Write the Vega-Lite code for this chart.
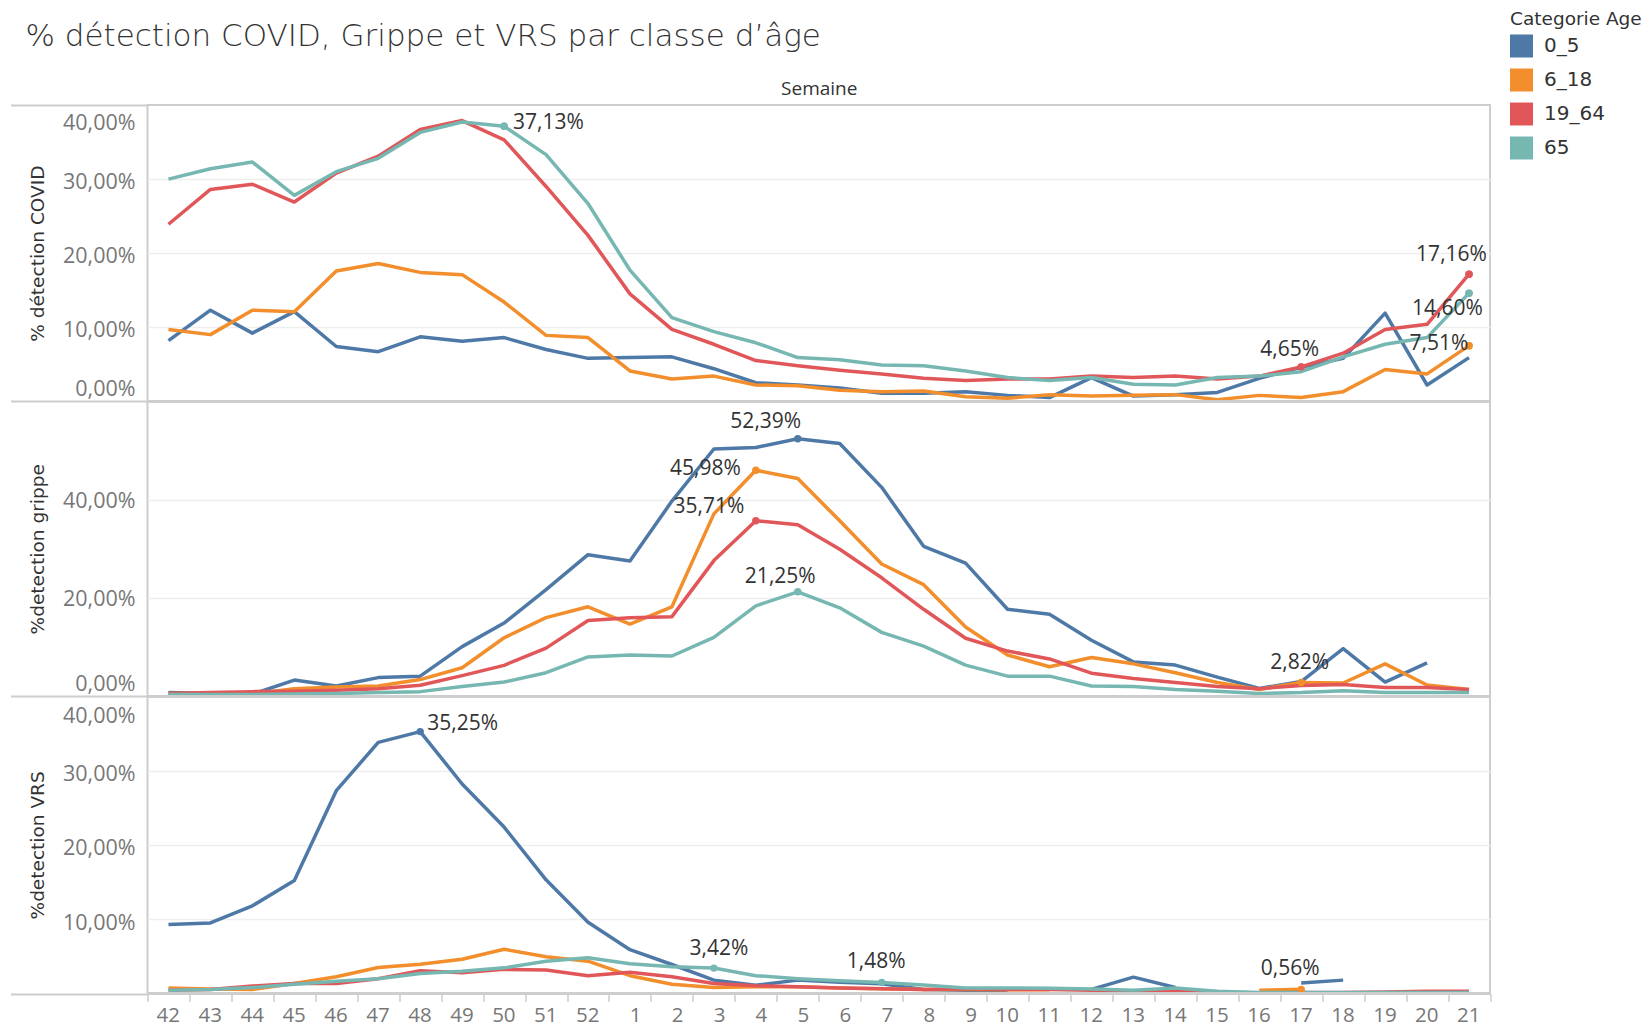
{
  "$schema": "https://vega.github.io/schema/vega-lite/v6.json",
  "autosize": {"type": "none"},
  "width": 1342.5,
  "height": 888.5,
  "padding": {"left": 147.5, "top": 105, "right": 162, "bottom": 35.5},
  "background": "white",
  "title": {"text": "% détection COVID, Grippe et VRS par classe d’âge", "anchor": "start", "frame": "group", "dx": -122, "dy": 47, "font": "DejaVu Sans", "fontSize": 31, "fontWeight": 200, "color": "#333333"},
  "config": {
    "locale": {"number": {"decimal": ",", "thousands": " ", "grouping": [3], "currency": ["", " €"]}},
    "view": {"stroke": "#cdcdcd", "strokeWidth": 2},
    "font": "Open Sans"
  },
  "datasets": {
    "d": [
      {"week":"42","age":"0_5","covid":0.082,"grippe":0.0075,"vrs":0.093},
      {"week":"43","age":"0_5","covid":0.123,"grippe":0.0055,"vrs":0.095},
      {"week":"44","age":"0_5","covid":0.092,"grippe":0.0045,"vrs":0.118},
      {"week":"45","age":"0_5","covid":0.121,"grippe":0.033,"vrs":0.152},
      {"week":"46","age":"0_5","covid":0.074,"grippe":0.021,"vrs":0.273},
      {"week":"47","age":"0_5","covid":0.067,"grippe":0.038,"vrs":0.338},
      {"week":"48","age":"0_5","covid":0.087,"grippe":0.041,"vrs":0.3525},
      {"week":"49","age":"0_5","covid":0.081,"grippe":0.101,"vrs":0.282},
      {"week":"50","age":"0_5","covid":0.086,"grippe":0.149,"vrs":0.224},
      {"week":"51","age":"0_5","covid":0.070,"grippe":0.217,"vrs":0.153},
      {"week":"52","age":"0_5","covid":0.058,"grippe":0.288,"vrs":0.096},
      {"week":"1","age":"0_5","covid":0.059,"grippe":0.275,"vrs":0.059},
      {"week":"2","age":"0_5","covid":0.060,"grippe":0.397,"vrs":0.039},
      {"week":"3","age":"0_5","covid":0.044,"grippe":0.503,"vrs":0.018},
      {"week":"4","age":"0_5","covid":0.025,"grippe":0.506,"vrs":0.011},
      {"week":"5","age":"0_5","covid":0.022,"grippe":0.5239,"vrs":0.018},
      {"week":"6","age":"0_5","covid":0.018,"grippe":0.514,"vrs":0.015},
      {"week":"7","age":"0_5","covid":0.011,"grippe":0.425,"vrs":0.013},
      {"week":"8","age":"0_5","covid":0.011,"grippe":0.305,"vrs":0.0055},
      {"week":"9","age":"0_5","covid":0.013,"grippe":0.271,"vrs":0.0045},
      {"week":"10","age":"0_5","covid":0.008,"grippe":0.177,"vrs":0.0045},
      {"week":"11","age":"0_5","covid":0.005,"grippe":0.167,"vrs":null},
      {"week":"12","age":"0_5","covid":0.032,"grippe":0.114,"vrs":0.0055},
      {"week":"13","age":"0_5","covid":0.007,"grippe":0.070,"vrs":0.022},
      {"week":"14","age":"0_5","covid":0.009,"grippe":0.0635,"vrs":0.008},
      {"week":"15","age":"0_5","covid":0.012,"grippe":0.039,"vrs":null},
      {"week":"16","age":"0_5","covid":0.031,"grippe":0.016,"vrs":null},
      {"week":"17","age":"0_5","covid":0.046,"grippe":0.030,"vrs":0.014},
      {"week":"18","age":"0_5","covid":0.058,"grippe":0.097,"vrs":0.018},
      {"week":"19","age":"0_5","covid":0.119,"grippe":0.029,"vrs":null},
      {"week":"20","age":"0_5","covid":0.022,"grippe":0.068,"vrs":null},
      {"week":"21","age":"0_5","covid":0.059,"grippe":null,"vrs":null},

      {"week":"42","age":"6_18","covid":0.097,"grippe":0.0055,"vrs":0.0075},
      {"week":"43","age":"6_18","covid":0.090,"grippe":0.0045,"vrs":0.006},
      {"week":"44","age":"6_18","covid":0.123,"grippe":0.0045,"vrs":0.0055},
      {"week":"45","age":"6_18","covid":0.121,"grippe":0.0155,"vrs":0.0135},
      {"week":"46","age":"6_18","covid":0.176,"grippe":0.019,"vrs":0.0225},
      {"week":"47","age":"6_18","covid":0.186,"grippe":0.021,"vrs":0.035},
      {"week":"48","age":"6_18","covid":0.174,"grippe":0.034,"vrs":0.0395},
      {"week":"49","age":"6_18","covid":0.171,"grippe":0.058,"vrs":0.046},
      {"week":"50","age":"6_18","covid":0.134,"grippe":0.119,"vrs":0.0595},
      {"week":"51","age":"6_18","covid":0.089,"grippe":0.160,"vrs":0.0495},
      {"week":"52","age":"6_18","covid":0.086,"grippe":0.182,"vrs":0.0435},
      {"week":"1","age":"6_18","covid":0.041,"grippe":0.147,"vrs":0.024},
      {"week":"2","age":"6_18","covid":0.030,"grippe":0.182,"vrs":0.0125},
      {"week":"3","age":"6_18","covid":0.034,"grippe":0.371,"vrs":0.008},
      {"week":"4","age":"6_18","covid":0.022,"grippe":0.4598,"vrs":0.009},
      {"week":"5","age":"6_18","covid":0.021,"grippe":0.443,"vrs":0.009},
      {"week":"6","age":"6_18","covid":0.015,"grippe":0.357,"vrs":0.0075},
      {"week":"7","age":"6_18","covid":0.013,"grippe":0.269,"vrs":0.0065},
      {"week":"8","age":"6_18","covid":0.014,"grippe":0.227,"vrs":0.0055},
      {"week":"9","age":"6_18","covid":0.006,"grippe":0.141,"vrs":0.0055},
      {"week":"10","age":"6_18","covid":0.004,"grippe":0.084,"vrs":0.005},
      {"week":"11","age":"6_18","covid":0.009,"grippe":0.060,"vrs":0.005},
      {"week":"12","age":"6_18","covid":0.007,"grippe":0.079,"vrs":null},
      {"week":"13","age":"6_18","covid":0.008,"grippe":0.066,"vrs":null},
      {"week":"14","age":"6_18","covid":0.009,"grippe":0.048,"vrs":null},
      {"week":"15","age":"6_18","covid":0.002,"grippe":0.028,"vrs":null},
      {"week":"16","age":"6_18","covid":0.008,"grippe":0.014,"vrs":0.0045},
      {"week":"17","age":"6_18","covid":0.005,"grippe":0.0282,"vrs":0.0056},
      {"week":"18","age":"6_18","covid":0.013,"grippe":0.027,"vrs":null},
      {"week":"19","age":"6_18","covid":0.043,"grippe":0.066,"vrs":null},
      {"week":"20","age":"6_18","covid":0.037,"grippe":0.023,"vrs":null},
      {"week":"21","age":"6_18","covid":0.0751,"grippe":0.014,"vrs":null},

      {"week":"42","age":"19_64","covid":0.239,"grippe":0.0055,"vrs":0.0045},
      {"week":"43","age":"19_64","covid":0.286,"grippe":0.0075,"vrs":0.0055},
      {"week":"44","age":"19_64","covid":0.293,"grippe":0.0095,"vrs":0.010},
      {"week":"45","age":"19_64","covid":0.269,"grippe":0.0105,"vrs":0.0135},
      {"week":"46","age":"19_64","covid":0.308,"grippe":0.0125,"vrs":0.0135},
      {"week":"47","age":"19_64","covid":0.331,"grippe":0.0155,"vrs":0.020},
      {"week":"48","age":"19_64","covid":0.367,"grippe":0.0225,"vrs":0.0305},
      {"week":"49","age":"19_64","covid":0.379,"grippe":0.042,"vrs":0.028},
      {"week":"50","age":"19_64","covid":0.353,"grippe":0.063,"vrs":0.0325},
      {"week":"51","age":"19_64","covid":0.290,"grippe":0.098,"vrs":0.0315},
      {"week":"52","age":"19_64","covid":0.224,"grippe":0.154,"vrs":0.024},
      {"week":"1","age":"19_64","covid":0.145,"grippe":0.160,"vrs":0.0285},
      {"week":"2","age":"19_64","covid":0.097,"grippe":0.162,"vrs":0.0225},
      {"week":"3","age":"19_64","covid":0.077,"grippe":0.276,"vrs":0.0135},
      {"week":"4","age":"19_64","covid":0.055,"grippe":0.3571,"vrs":0.0105},
      {"week":"5","age":"19_64","covid":0.048,"grippe":0.349,"vrs":0.009},
      {"week":"6","age":"19_64","covid":0.042,"grippe":0.299,"vrs":0.0075},
      {"week":"7","age":"19_64","covid":0.037,"grippe":0.241,"vrs":0.0065},
      {"week":"8","age":"19_64","covid":0.031,"grippe":0.177,"vrs":0.0055},
      {"week":"9","age":"19_64","covid":0.028,"grippe":0.118,"vrs":0.0065},
      {"week":"10","age":"19_64","covid":0.030,"grippe":0.092,"vrs":0.0055},
      {"week":"11","age":"19_64","covid":0.030,"grippe":0.076,"vrs":0.0055},
      {"week":"12","age":"19_64","covid":0.034,"grippe":0.047,"vrs":0.0045},
      {"week":"13","age":"19_64","covid":0.032,"grippe":0.036,"vrs":0.0025},
      {"week":"14","age":"19_64","covid":0.034,"grippe":0.028,"vrs":0.003},
      {"week":"15","age":"19_64","covid":0.030,"grippe":0.020,"vrs":0.0015},
      {"week":"16","age":"19_64","covid":0.034,"grippe":0.0155,"vrs":0.001},
      {"week":"17","age":"19_64","covid":0.0465,"grippe":0.022,"vrs":0.0015},
      {"week":"18","age":"19_64","covid":0.065,"grippe":0.024,"vrs":0.0015},
      {"week":"19","age":"19_64","covid":0.097,"grippe":0.018,"vrs":0.002},
      {"week":"20","age":"19_64","covid":0.104,"grippe":0.018,"vrs":0.003},
      {"week":"21","age":"19_64","covid":0.1716,"grippe":0.014,"vrs":0.003},

      {"week":"42","age":"65","covid":0.300,"grippe":0.0035,"vrs":0.0045},
      {"week":"43","age":"65","covid":0.314,"grippe":0.0035,"vrs":0.0055},
      {"week":"44","age":"65","covid":0.323,"grippe":0.0035,"vrs":0.008},
      {"week":"45","age":"65","covid":0.278,"grippe":0.0045,"vrs":0.0125},
      {"week":"46","age":"65","covid":0.310,"grippe":0.0055,"vrs":0.0165},
      {"week":"47","age":"65","covid":0.328,"grippe":0.0075,"vrs":0.020},
      {"week":"48","age":"65","covid":0.363,"grippe":0.0095,"vrs":0.027},
      {"week":"49","age":"65","covid":0.377,"grippe":0.020,"vrs":0.030},
      {"week":"50","age":"65","covid":0.3713,"grippe":0.029,"vrs":0.0345},
      {"week":"51","age":"65","covid":0.333,"grippe":0.048,"vrs":0.0435},
      {"week":"52","age":"65","covid":0.267,"grippe":0.080,"vrs":0.048},
      {"week":"1","age":"65","covid":0.177,"grippe":0.084,"vrs":0.040},
      {"week":"2","age":"65","covid":0.113,"grippe":0.082,"vrs":0.036},
      {"week":"3","age":"65","covid":0.094,"grippe":0.120,"vrs":0.0342},
      {"week":"4","age":"65","covid":0.079,"grippe":0.184,"vrs":0.024},
      {"week":"5","age":"65","covid":0.059,"grippe":0.2125,"vrs":0.020},
      {"week":"6","age":"65","covid":0.056,"grippe":0.180,"vrs":0.017},
      {"week":"7","age":"65","covid":0.049,"grippe":0.130,"vrs":0.0148},
      {"week":"8","age":"65","covid":0.048,"grippe":0.102,"vrs":0.0115},
      {"week":"9","age":"65","covid":0.041,"grippe":0.0635,"vrs":0.0075},
      {"week":"10","age":"65","covid":0.032,"grippe":0.041,"vrs":0.0075},
      {"week":"11","age":"65","covid":0.028,"grippe":0.041,"vrs":0.007},
      {"week":"12","age":"65","covid":0.032,"grippe":0.021,"vrs":0.006},
      {"week":"13","age":"65","covid":0.023,"grippe":0.020,"vrs":0.0045},
      {"week":"14","age":"65","covid":0.022,"grippe":0.014,"vrs":0.0075},
      {"week":"15","age":"65","covid":0.032,"grippe":0.0105,"vrs":0.003},
      {"week":"16","age":"65","covid":0.034,"grippe":0.0055,"vrs":0.0015},
      {"week":"17","age":"65","covid":0.040,"grippe":0.0075,"vrs":0.0015},
      {"week":"18","age":"65","covid":0.060,"grippe":0.0115,"vrs":0.0015},
      {"week":"19","age":"65","covid":0.077,"grippe":0.0075,"vrs":0.0015},
      {"week":"20","age":"65","covid":0.086,"grippe":0.0075,"vrs":0.0015},
      {"week":"21","age":"65","covid":0.1460,"grippe":0.0075,"vrs":0.0015}
    ]
  },
  "data": {"name": "d"},
  "resolve": {"scale": {"y": "independent"}, "axis": {"y": "independent"}},
  "layer": [
    {
      "layer": [
        {
          "transform": [{"filter": "(datum.age == '65' && (datum.week == '50' || datum.week == '21')) || (datum.age == '19_64' && (datum.week == '21' || datum.week == '17')) || (datum.age == '6_18' && datum.week == '21')"}],
          "mark": {"type": "point", "filled": true, "shape": "circle", "size": 55, "opacity": 1},
          "encoding": {
            "x": {"field": "week", "type": "ordinal", "sort": ["42","43","44","45","46","47","48","49","50","51","52","1","2","3","4","5","6","7","8","9","10","11","12","13","14","15","16","17","18","19","20","21"], "scale": {"type": "band", "paddingInner": 0, "paddingOuter": 0}, "bandPosition": 0.5},
            "y": {"field": "covid", "type": "quantitative"},
            "color": {"field": "age", "type": "nominal", "scale": {"domain": ["0_5","6_18","19_64","65"], "range": ["#4e79a7","#f28e2b","#e15759","#76b7b2"]},
              "legend": {"title": "Categorie Age", "orient": "none", "legendX": 1362.5, "legendY": -95, "direction": "vertical", "symbolType": "square", "symbolSize": 529, "symbolStrokeWidth": 0, "symbolOpacity": 1, "labelFont": "DejaVu Sans", "labelFontSize": 20, "labelColor": "#333333", "labelOffset": 11, "titleFont": "DejaVu Sans", "titleFontSize": 18.5, "titleFontWeight": "normal", "titleColor": "#333333", "titlePadding": 6, "rowPadding": 11}}
          }
        },
        {
          "mark": {"type": "line", "strokeWidth": 3.5, "strokeJoin": "round", "invalid": "break-paths-show-domains"},
          "encoding": {
            "x": {"field": "week", "type": "ordinal", "sort": ["42","43","44","45","46","47","48","49","50","51","52","1","2","3","4","5","6","7","8","9","10","11","12","13","14","15","16","17","18","19","20","21"], "scale": {"type": "band", "paddingInner": 0, "paddingOuter": 0}, "bandPosition": 0.5,
              "axis": {"orient": "bottom", "title": "Semaine", "titleY": -905, "titleBaseline": "middle", "titleFont": "Open Sans", "titleFontSize": 19, "titleFontWeight": "normal", "titleColor": "#333333", "labelFont": "Open Sans", "labelFontSize": 20.5, "labelColor": "#777777", "labelAngle": 0, "labelPadding": 13.5, "labelOffset": 11, "tickBand": "extent", "tickSize": 8, "tickColor": "#cdcdcd", "tickWidth": 1.5, "domain": false, "grid": false}},
            "y": {"field": "covid", "type": "quantitative", "scale": {"domain": [0, 0.4], "range": [296.3, 0], "nice": false, "zero": false},
              "axis": {"orient": "left", "title": "% détection COVID", "titleFont": "DejaVu Sans", "titleFontSize": 18.5, "titleFontWeight": "normal", "titleColor": "#333333", "titleX": -110, "titleBaseline": "middle",
                "values": [0, 0.1, 0.2, 0.3, 0.4], "format": ".2%", "labelFont": "Open Sans", "labelFontSize": 21.5, "labelColor": "#777777", "labelBaseline": "middle",
                "labelOffset": {"condition": [{"test": "datum.value >= 0.4", "value": 18.5}, {"test": "datum.value == 0", "value": -11.5}], "value": 3},
                "labelPadding": -124.5, "tickSize": 137, "tickWidth": 2,
                "tickColor": {"condition": {"test": "datum.value == 0 || datum.value >= 0.4", "value": "#cdcdcd"}, "value": "rgba(0,0,0,0)"},
                "domain": false, "grid": true, "gridWidth": 1.5,
                "gridColor": {"condition": {"test": "datum.value == 0 || datum.value >= 0.4", "value": "rgba(0,0,0,0)"}, "value": "#eeeeee"}}},
            "color": {"field": "age", "type": "nominal"},
            "order": {"value": null}
          }
        },
        {
          "transform": [{"filter": "(datum.age == '65' && (datum.week == '50' || datum.week == '21')) || (datum.age == '19_64' && (datum.week == '21' || datum.week == '17')) || (datum.age == '6_18' && datum.week == '21')"}],
          "mark": {"type": "point", "filled": true, "shape": "circle", "size": 55, "opacity": 1},
          "encoding": {
            "x": {"field": "week", "type": "ordinal", "sort": ["42","43","44","45","46","47","48","49","50","51","52","1","2","3","4","5","6","7","8","9","10","11","12","13","14","15","16","17","18","19","20","21"], "scale": {"type": "band", "paddingInner": 0, "paddingOuter": 0}, "bandPosition": 0.5},
            "y": {"field": "covid", "type": "quantitative"},
            "color": {"field": "age", "type": "nominal"}
          }
        },
        {
          "transform": [{"filter": "datum.age == '65' && datum.week == '50'"}],
          "mark": {"type": "text", "align": "left", "baseline": "middle", "dx": 9, "dy": -3, "font": "Open Sans", "fontSize": 21, "color": "#333333"},
          "encoding": {"x": {"field": "week", "type": "ordinal", "sort": ["42","43","44","45","46","47","48","49","50","51","52","1","2","3","4","5","6","7","8","9","10","11","12","13","14","15","16","17","18","19","20","21"], "scale": {"type": "band", "paddingInner": 0, "paddingOuter": 0}, "bandPosition": 0.5}, "y": {"field": "covid", "type": "quantitative"}, "text": {"field": "covid", "type": "quantitative", "format": ".2%"}}
        },
        {
          "transform": [{"filter": "datum.age == '19_64' && datum.week == '21'"}],
          "mark": {"type": "text", "align": "center", "baseline": "middle", "dx": -17.5, "dy": -19, "font": "Open Sans", "fontSize": 21, "color": "#333333"},
          "encoding": {"x": {"field": "week", "type": "ordinal", "sort": ["42","43","44","45","46","47","48","49","50","51","52","1","2","3","4","5","6","7","8","9","10","11","12","13","14","15","16","17","18","19","20","21"], "scale": {"type": "band", "paddingInner": 0, "paddingOuter": 0}, "bandPosition": 0.5}, "y": {"field": "covid", "type": "quantitative"}, "text": {"field": "covid", "type": "quantitative", "format": ".2%"}}
        },
        {
          "transform": [{"filter": "datum.age == '65' && datum.week == '21'"}],
          "mark": {"type": "text", "align": "center", "baseline": "middle", "dx": -21.5, "dy": 16, "font": "Open Sans", "fontSize": 21, "color": "#333333"},
          "encoding": {"x": {"field": "week", "type": "ordinal", "sort": ["42","43","44","45","46","47","48","49","50","51","52","1","2","3","4","5","6","7","8","9","10","11","12","13","14","15","16","17","18","19","20","21"], "scale": {"type": "band", "paddingInner": 0, "paddingOuter": 0}, "bandPosition": 0.5}, "y": {"field": "covid", "type": "quantitative"}, "text": {"field": "covid", "type": "quantitative", "format": ".2%"}}
        },
        {
          "transform": [{"filter": "datum.age == '6_18' && datum.week == '21'"}],
          "mark": {"type": "text", "align": "center", "baseline": "middle", "dx": -30, "dy": -2, "font": "Open Sans", "fontSize": 21, "color": "#333333"},
          "encoding": {"x": {"field": "week", "type": "ordinal", "sort": ["42","43","44","45","46","47","48","49","50","51","52","1","2","3","4","5","6","7","8","9","10","11","12","13","14","15","16","17","18","19","20","21"], "scale": {"type": "band", "paddingInner": 0, "paddingOuter": 0}, "bandPosition": 0.5}, "y": {"field": "covid", "type": "quantitative"}, "text": {"field": "covid", "type": "quantitative", "format": ".2%"}}
        },
        {
          "transform": [{"filter": "datum.age == '19_64' && datum.week == '17'"}],
          "mark": {"type": "text", "align": "center", "baseline": "middle", "dx": -11.5, "dy": -17, "font": "Open Sans", "fontSize": 21, "color": "#333333"},
          "encoding": {"x": {"field": "week", "type": "ordinal", "sort": ["42","43","44","45","46","47","48","49","50","51","52","1","2","3","4","5","6","7","8","9","10","11","12","13","14","15","16","17","18","19","20","21"], "scale": {"type": "band", "paddingInner": 0, "paddingOuter": 0}, "bandPosition": 0.5}, "y": {"field": "covid", "type": "quantitative"}, "text": {"field": "covid", "type": "quantitative", "format": ".2%"}}
        },
        {
          "mark": {"type": "rule", "color": "#cdcdcd", "strokeWidth": 2},
          "encoding": {"y": {"datum": 0, "type": "quantitative"}}
        }
      ]
    },
    {
      "layer": [
        {
          "mark": {"type": "line", "strokeWidth": 3.5, "strokeJoin": "round", "invalid": "break-paths-show-domains"},
          "encoding": {
            "x": {"field": "week", "type": "ordinal", "sort": ["42","43","44","45","46","47","48","49","50","51","52","1","2","3","4","5","6","7","8","9","10","11","12","13","14","15","16","17","18","19","20","21"], "scale": {"type": "band", "paddingInner": 0, "paddingOuter": 0}, "bandPosition": 0.5},
            "y": {"field": "grippe", "type": "quantitative", "scale": {"domain": [0, 0.6], "range": [591.3, 296.3], "nice": false, "zero": false},
              "axis": {"orient": "left", "title": "%detection grippe", "titleFont": "DejaVu Sans", "titleFontSize": 18.5, "titleFontWeight": "normal", "titleColor": "#333333", "titleX": -110, "titleBaseline": "middle",
                "values": [0, 0.2, 0.4], "format": ".2%", "labelFont": "Open Sans", "labelFontSize": 21.5, "labelColor": "#777777", "labelBaseline": "middle",
                "labelOffset": {"condition": {"test": "datum.value == 0", "value": -12}, "value": 2},
                "labelPadding": -124.5, "tickSize": 137, "tickWidth": 2,
                "tickColor": {"condition": {"test": "datum.value == 0", "value": "#cdcdcd"}, "value": "rgba(0,0,0,0)"},
                "domain": false, "grid": true, "gridWidth": 1.5,
                "gridColor": {"condition": {"test": "datum.value == 0", "value": "rgba(0,0,0,0)"}, "value": "#eeeeee"}}},
            "color": {"field": "age", "type": "nominal"},
            "order": {"value": null}
          }
        },
        {
          "transform": [{"filter": "(datum.age == '0_5' && datum.week == '5') || (datum.age == '6_18' && (datum.week == '4' || datum.week == '17')) || (datum.age == '19_64' && datum.week == '4') || (datum.age == '65' && datum.week == '5')"}],
          "mark": {"type": "point", "filled": true, "shape": "circle", "size": 55, "opacity": 1},
          "encoding": {
            "x": {"field": "week", "type": "ordinal", "sort": ["42","43","44","45","46","47","48","49","50","51","52","1","2","3","4","5","6","7","8","9","10","11","12","13","14","15","16","17","18","19","20","21"], "scale": {"type": "band", "paddingInner": 0, "paddingOuter": 0}, "bandPosition": 0.5},
            "y": {"field": "grippe", "type": "quantitative"},
            "color": {"field": "age", "type": "nominal"}
          }
        },
        {
          "transform": [{"filter": "datum.age == '0_5' && datum.week == '5'"}],
          "mark": {"type": "text", "align": "center", "baseline": "middle", "dx": -32, "dy": -17, "font": "Open Sans", "fontSize": 21, "color": "#333333"},
          "encoding": {"x": {"field": "week", "type": "ordinal", "sort": ["42","43","44","45","46","47","48","49","50","51","52","1","2","3","4","5","6","7","8","9","10","11","12","13","14","15","16","17","18","19","20","21"], "scale": {"type": "band", "paddingInner": 0, "paddingOuter": 0}, "bandPosition": 0.5}, "y": {"field": "grippe", "type": "quantitative"}, "text": {"field": "grippe", "type": "quantitative", "format": ".2%"}}
        },
        {
          "transform": [{"filter": "datum.age == '6_18' && datum.week == '4'"}],
          "mark": {"type": "text", "align": "right", "baseline": "middle", "dx": -15, "dy": -1, "font": "Open Sans", "fontSize": 21, "color": "#333333"},
          "encoding": {"x": {"field": "week", "type": "ordinal", "sort": ["42","43","44","45","46","47","48","49","50","51","52","1","2","3","4","5","6","7","8","9","10","11","12","13","14","15","16","17","18","19","20","21"], "scale": {"type": "band", "paddingInner": 0, "paddingOuter": 0}, "bandPosition": 0.5}, "y": {"field": "grippe", "type": "quantitative"}, "text": {"field": "grippe", "type": "quantitative", "format": ".2%"}}
        },
        {
          "transform": [{"filter": "datum.age == '19_64' && datum.week == '4'"}],
          "mark": {"type": "text", "align": "right", "baseline": "middle", "dx": -11.5, "dy": -14, "font": "Open Sans", "fontSize": 21, "color": "#333333"},
          "encoding": {"x": {"field": "week", "type": "ordinal", "sort": ["42","43","44","45","46","47","48","49","50","51","52","1","2","3","4","5","6","7","8","9","10","11","12","13","14","15","16","17","18","19","20","21"], "scale": {"type": "band", "paddingInner": 0, "paddingOuter": 0}, "bandPosition": 0.5}, "y": {"field": "grippe", "type": "quantitative"}, "text": {"field": "grippe", "type": "quantitative", "format": ".2%"}}
        },
        {
          "transform": [{"filter": "datum.age == '65' && datum.week == '5'"}],
          "mark": {"type": "text", "align": "center", "baseline": "middle", "dx": -17.5, "dy": -15, "font": "Open Sans", "fontSize": 21, "color": "#333333"},
          "encoding": {"x": {"field": "week", "type": "ordinal", "sort": ["42","43","44","45","46","47","48","49","50","51","52","1","2","3","4","5","6","7","8","9","10","11","12","13","14","15","16","17","18","19","20","21"], "scale": {"type": "band", "paddingInner": 0, "paddingOuter": 0}, "bandPosition": 0.5}, "y": {"field": "grippe", "type": "quantitative"}, "text": {"field": "grippe", "type": "quantitative", "format": ".2%"}}
        },
        {
          "transform": [{"filter": "datum.age == '6_18' && datum.week == '17'"}],
          "mark": {"type": "text", "align": "center", "baseline": "middle", "dx": -1.5, "dy": -19, "font": "Open Sans", "fontSize": 21, "color": "#333333"},
          "encoding": {"x": {"field": "week", "type": "ordinal", "sort": ["42","43","44","45","46","47","48","49","50","51","52","1","2","3","4","5","6","7","8","9","10","11","12","13","14","15","16","17","18","19","20","21"], "scale": {"type": "band", "paddingInner": 0, "paddingOuter": 0}, "bandPosition": 0.5}, "y": {"field": "grippe", "type": "quantitative"}, "text": {"field": "grippe", "type": "quantitative", "format": ".2%"}}
        },
        {
          "mark": {"type": "rule", "color": "#cdcdcd", "strokeWidth": 2},
          "encoding": {"y": {"datum": 0, "type": "quantitative"}}
        }
      ]
    },
    {
      "layer": [
        {
          "mark": {"type": "line", "strokeWidth": 3.5, "strokeJoin": "round", "invalid": "break-paths-show-domains"},
          "encoding": {
            "x": {"field": "week", "type": "ordinal", "sort": ["42","43","44","45","46","47","48","49","50","51","52","1","2","3","4","5","6","7","8","9","10","11","12","13","14","15","16","17","18","19","20","21"], "scale": {"type": "band", "paddingInner": 0, "paddingOuter": 0}, "bandPosition": 0.5},
            "y": {"field": "vrs", "type": "quantitative", "scale": {"domain": [0, 0.4], "range": [888.5, 591.3], "nice": false, "zero": false},
              "axis": {"orient": "left", "title": "%detection VRS", "titleFont": "DejaVu Sans", "titleFontSize": 18.5, "titleFontWeight": "normal", "titleColor": "#333333", "titleX": -110, "titleBaseline": "middle",
                "values": [0, 0.1, 0.2, 0.3, 0.4], "format": ".2%", "labelExpr": "datum.value == 0 ? '' : datum.label", "labelFont": "Open Sans", "labelFontSize": 21.5, "labelColor": "#777777", "labelBaseline": "middle",
                "labelOffset": {"condition": {"test": "datum.value >= 0.4", "value": 20.5}, "value": 4},
                "labelPadding": -124.5, "tickSize": 137, "tickWidth": 2,
                "tickColor": {"condition": {"test": "datum.value == 0", "value": "#cdcdcd"}, "value": "rgba(0,0,0,0)"},
                "domain": false, "grid": true, "gridWidth": 1.5,
                "gridColor": {"condition": {"test": "datum.value == 0 || datum.value >= 0.4", "value": "rgba(0,0,0,0)"}, "value": "#eeeeee"}}},
            "color": {"field": "age", "type": "nominal"},
            "order": {"value": null}
          }
        },
        {
          "transform": [{"filter": "(datum.age == '0_5' && datum.week == '48') || (datum.age == '65' && (datum.week == '3' || datum.week == '7')) || (datum.age == '6_18' && datum.week == '17')"}],
          "mark": {"type": "point", "filled": true, "shape": "circle", "size": 55, "opacity": 1},
          "encoding": {
            "x": {"field": "week", "type": "ordinal", "sort": ["42","43","44","45","46","47","48","49","50","51","52","1","2","3","4","5","6","7","8","9","10","11","12","13","14","15","16","17","18","19","20","21"], "scale": {"type": "band", "paddingInner": 0, "paddingOuter": 0}, "bandPosition": 0.5},
            "y": {"field": "vrs", "type": "quantitative"},
            "color": {"field": "age", "type": "nominal"}
          }
        },
        {
          "transform": [{"filter": "datum.age == '0_5' && datum.week == '48'"}],
          "mark": {"type": "text", "align": "left", "baseline": "middle", "dx": 7, "dy": -8, "font": "Open Sans", "fontSize": 21, "color": "#333333"},
          "encoding": {"x": {"field": "week", "type": "ordinal", "sort": ["42","43","44","45","46","47","48","49","50","51","52","1","2","3","4","5","6","7","8","9","10","11","12","13","14","15","16","17","18","19","20","21"], "scale": {"type": "band", "paddingInner": 0, "paddingOuter": 0}, "bandPosition": 0.5}, "y": {"field": "vrs", "type": "quantitative"}, "text": {"field": "vrs", "type": "quantitative", "format": ".2%"}}
        },
        {
          "transform": [{"filter": "datum.age == '65' && datum.week == '3'"}],
          "mark": {"type": "text", "align": "center", "baseline": "middle", "dx": 5, "dy": -19, "font": "Open Sans", "fontSize": 21, "color": "#333333"},
          "encoding": {"x": {"field": "week", "type": "ordinal", "sort": ["42","43","44","45","46","47","48","49","50","51","52","1","2","3","4","5","6","7","8","9","10","11","12","13","14","15","16","17","18","19","20","21"], "scale": {"type": "band", "paddingInner": 0, "paddingOuter": 0}, "bandPosition": 0.5}, "y": {"field": "vrs", "type": "quantitative"}, "text": {"field": "vrs", "type": "quantitative", "format": ".2%"}}
        },
        {
          "transform": [{"filter": "datum.age == '65' && datum.week == '7'"}],
          "mark": {"type": "text", "align": "center", "baseline": "middle", "dx": -5.5, "dy": -20.5, "font": "Open Sans", "fontSize": 21, "color": "#333333"},
          "encoding": {"x": {"field": "week", "type": "ordinal", "sort": ["42","43","44","45","46","47","48","49","50","51","52","1","2","3","4","5","6","7","8","9","10","11","12","13","14","15","16","17","18","19","20","21"], "scale": {"type": "band", "paddingInner": 0, "paddingOuter": 0}, "bandPosition": 0.5}, "y": {"field": "vrs", "type": "quantitative"}, "text": {"field": "vrs", "type": "quantitative", "format": ".2%"}}
        },
        {
          "transform": [{"filter": "datum.age == '6_18' && datum.week == '17'"}],
          "mark": {"type": "text", "align": "center", "baseline": "middle", "dx": -11, "dy": -20, "font": "Open Sans", "fontSize": 21, "color": "#333333"},
          "encoding": {"x": {"field": "week", "type": "ordinal", "sort": ["42","43","44","45","46","47","48","49","50","51","52","1","2","3","4","5","6","7","8","9","10","11","12","13","14","15","16","17","18","19","20","21"], "scale": {"type": "band", "paddingInner": 0, "paddingOuter": 0}, "bandPosition": 0.5}, "y": {"field": "vrs", "type": "quantitative"}, "text": {"field": "vrs", "type": "quantitative", "format": ".2%"}}
        },
        {
          "mark": {"type": "rule", "color": "#cdcdcd", "strokeWidth": 2},
          "encoding": {"y": {"datum": 0, "type": "quantitative"}}
        }
      ]
    }
  ]
}
